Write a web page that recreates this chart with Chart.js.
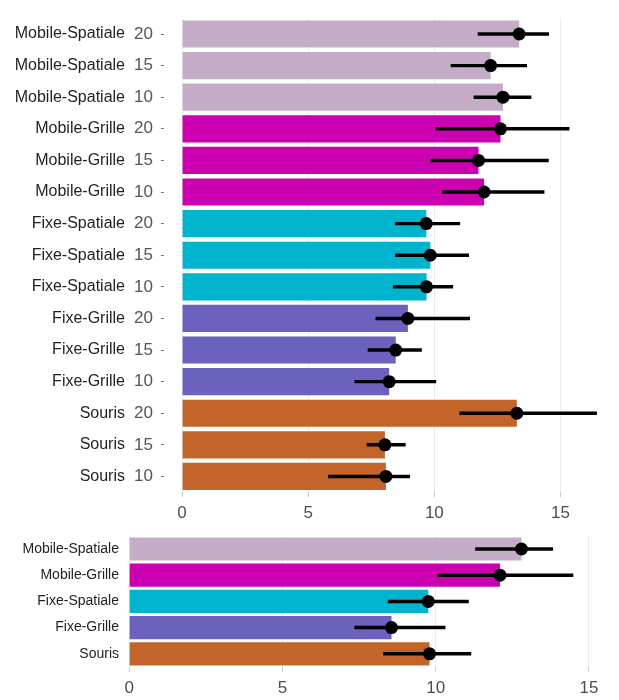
<!DOCTYPE html>
<html>
<head>
<meta charset="utf-8">
<script src="https://cdn.jsdelivr.net/npm/chart.js@4.4.1/dist/chart.umd.min.js"></script>
<style>
  html, body { margin: 0; padding: 0; background: #ffffff; }
  body { width: 619px; height: 700px; position: relative; overflow: hidden; }
  #wrapTop { position: absolute; left: 0; top: 0; width: 619px; height: 530px; }
  #wrapBottom { position: absolute; left: 0; top: 520px; width: 619px; height: 180px; }
</style>
</head>
<body>
<div id="wrapTop"><canvas id="top"></canvas></div>
<div id="wrapBottom"><canvas id="bottom"></canvas></div>
<script>
// ---------- DATA (top chart: interface x size) ----------
const topGroups = ['Mobile-Spatiale','Mobile-Spatiale','Mobile-Spatiale',
                   'Mobile-Grille','Mobile-Grille','Mobile-Grille',
                   'Fixe-Spatiale','Fixe-Spatiale','Fixe-Spatiale',
                   'Fixe-Grille','Fixe-Grille','Fixe-Grille',
                   'Souris','Souris','Souris'];
const topSizes  = ['20','15','10','20','15','10','20','15','10','20','15','10','20','15','10'];
const topMeans  = [13.36, 12.23, 12.72, 12.62, 11.75, 11.97, 9.68, 9.84, 9.69, 8.95, 8.47, 8.21, 13.27, 8.04, 8.08];
const topLow    = [11.73, 10.66, 11.57, 10.06, 9.85, 10.32, 8.46, 8.46, 8.37, 7.68, 7.37, 6.85, 11.01, 7.33, 5.80];
const topHigh   = [14.53, 13.66, 13.83, 15.34, 14.52, 14.35, 11.01, 11.36, 10.73, 11.40, 9.49, 10.06, 16.43, 8.85, 9.02];

// ---------- DATA (bottom chart: interface only) ----------
const botGroups = ['Mobile-Spatiale','Mobile-Grille','Fixe-Spatiale','Fixe-Grille','Souris'];
const botMeans  = [12.80, 12.10, 9.76, 8.56, 9.80];
const botLow    = [11.30, 10.08, 8.45, 7.36, 8.30];
const botHigh   = [13.82, 14.48, 11.07, 10.31, 11.15];

const xTicks = [0, 5, 10, 15];

// ---------- STYLE ----------
const groupColors = {
  'Mobile-Spatiale': '#c5adc8',
  'Mobile-Grille':   '#cc00b1',
  'Fixe-Spatiale':   '#00b4cd',
  'Fixe-Grille':     '#6a62bd',
  'Souris':          '#c3652a'
};
const FONT = '"Liberation Sans", Arial, Helvetica, sans-serif';

function buildChart(canvasId, cfg) {
  const rowKeys = cfg.groups.map((g, i) => g + '|' + i);
  const scales = {
    x: {
      type: 'linear',
      min: cfg.xmin, max: cfg.xmax,
      afterBuildTicks: axis => { axis.ticks = xTicks.map(v => ({ value: v })); },
      afterFit: s => { s.height = 30; },
      grid: {
        color: '#ececec', lineWidth: 1,
        drawTicks: true, tickLength: 5, tickColor: '#c8c8c8', tickWidth: 1
      },
      border: { display: false },
      ticks: { color: '#4d4d4d', font: { family: FONT, size: 17 }, padding: 6, maxRotation: 0 }
    },
    y: {
      type: 'category',
      labels: rowKeys,
      offset: true,
      weight: 0,
      afterFit: s => { s.width = cfg.innerWidth; },
      grid: {
        display: cfg.sizes ? true : false,
        offset: false,
        drawOnChartArea: false,
        drawTicks: !!cfg.sizes, tickLength: 3, tickColor: '#777777', tickWidth: 1
      },
      border: { display: false },
      ticks: {
        autoSkip: false,
        color: cfg.sizes ? '#555555' : '#1f1f1f',
        font: { family: FONT, size: cfg.sizes ? 17 : 14 },
        padding: cfg.sizes ? 8 : 4,
        callback: (v, i) => cfg.sizes ? cfg.sizes[i] : cfg.groups[i]
      }
    }
  };
  if (cfg.sizes) {
    scales.yNames = {
      type: 'category',
      position: 'left',
      labels: cfg.groups,
      offset: true,
      weight: 1,
      afterFit: s => { s.width = cfg.namesWidth; },
      grid: { display: false, drawTicks: false, drawOnChartArea: false, offset: false },
      border: { display: false },
      ticks: { autoSkip: false, color: '#1f1f1f', font: { family: FONT, size: 16 }, padding: 4 }
    };
  }

  return new Chart(document.getElementById(canvasId), {
    type: 'bar',
    data: {
      labels: rowKeys,
      datasets: [
        {
          type: 'line',
          indexAxis: 'y',
          data: cfg.means,
          showLine: false,
          pointRadius: 6.5,
          pointHoverRadius: 6.5,
          pointBackgroundColor: '#000000',
          pointBorderWidth: 0,
          order: 1,
          xAxisID: 'x', yAxisID: 'y'
        },
        {
          type: 'bar',
          indexAxis: 'y',
          data: cfg.low.map((l, i) => [l, cfg.high[i]]),
          backgroundColor: '#000000',
          barThickness: 2.8,
          grouped: false,
          order: 2,
          xAxisID: 'x', yAxisID: 'y'
        },
        {
          type: 'bar',
          indexAxis: 'y',
          data: cfg.means,
          backgroundColor: cfg.groups.map(g => groupColors[g]),
          borderWidth: 0,
          barPercentage: cfg.barPct,
          categoryPercentage: 1,
          grouped: false,
          order: 3,
          xAxisID: 'x', yAxisID: 'y'
        }
      ]
    },
    options: {
      indexAxis: 'y',
      responsive: true,
      maintainAspectRatio: false,
      animation: false,
      events: [],
      layout: { padding: cfg.padding },
      plugins: { legend: { display: false }, tooltip: { enabled: false } },
      scales: scales
    }
  });
}

buildChart('top', {
  groups: topGroups, sizes: topSizes, means: topMeans, low: topLow, high: topHigh,
  xmin: -0.715, xmax: 17.06,
  namesWidth: 129, innerWidth: 35,
  barPct: 0.86,
  padding: { top: 13.75, bottom: 7.75, left: 0, right: 0 }
});

buildChart('bottom', {
  groups: botGroups, sizes: null, means: botMeans, low: botLow, high: botHigh,
  xmin: -0.2, xmax: 15.77,
  innerWidth: 123,
  barPct: 0.885,
  padding: { top: 15.9, bottom: 3.1, left: 0, right: 0 }
});
</script>
</body>
</html>
